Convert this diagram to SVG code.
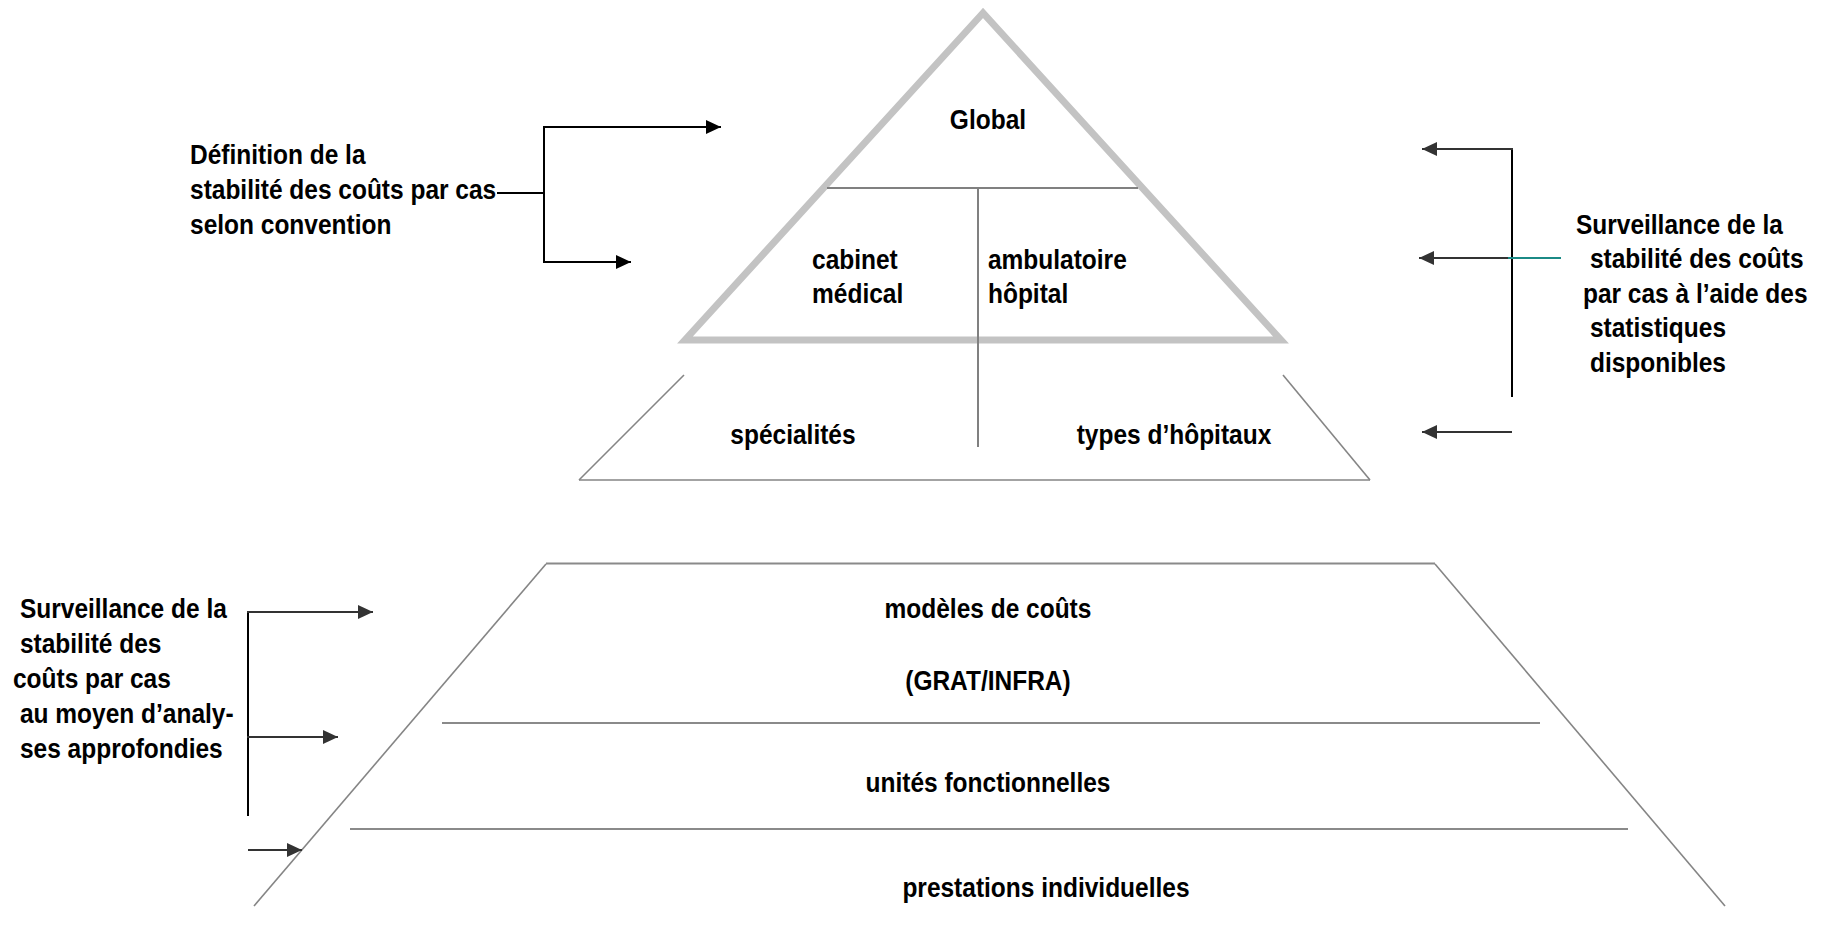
<svg xmlns="http://www.w3.org/2000/svg" width="1826" height="939" viewBox="0 0 1826 939">
<style>
text{font-family:"Liberation Sans",Arial,sans-serif;font-weight:bold;font-size:27px;fill:#000}
.c{text-anchor:middle}
.tri{fill:none;stroke:#c3c3c3;stroke-width:7;stroke-linejoin:miter}
.div{fill:none;stroke:#808080;stroke-width:2}
.edge{fill:none;stroke:#858585;stroke-width:1.6}
.hl{fill:none;stroke:#8a8a8a;stroke-width:2.2}
.blk{fill:none;stroke:#000;stroke-width:2}
.arr{fill:none;stroke:#333;stroke-width:2}
.teal{fill:none;stroke:#1b8a86;stroke-width:2}
</style>
<defs>
<marker id="ahB" markerUnits="userSpaceOnUse" markerWidth="15" markerHeight="14" refX="15" refY="7" orient="auto"><path d="M0,0 L15,7 L0,14 z" fill="#000"/></marker>
<marker id="ahG" markerUnits="userSpaceOnUse" markerWidth="15" markerHeight="14" refX="15" refY="7" orient="auto"><path d="M0,0 L15,7 L0,14 z" fill="#333"/></marker>
</defs>
<rect width="1826" height="939" fill="#fff"/>

<g id="top-triangle">
<polygon class="tri" points="983,13 685,340 1281,340"/>
<line class="div" x1="827" y1="188" x2="1138" y2="188"/>
<line class="div" x1="978" y1="188" x2="978" y2="447"/>
<g transform="scale(0.9074,1)">
<text class="c" x="1088.8" y="129">Global</text>
<text x="894.9" y="269">cabinet</text>
<text x="894.9" y="303">médical</text>
<text x="1088.8" y="269">ambulatoire</text>
<text x="1088.8" y="303">hôpital</text>
</g>
</g>

<g id="mid-trapezoid">
<line class="edge" x1="684" y1="375" x2="579" y2="480"/>
<line class="edge" x1="1283" y1="375" x2="1370" y2="480"/>
<line class="edge" x1="579" y1="480" x2="1370" y2="480"/>
<g transform="scale(0.9074,1)">
<text class="c" x="873.9" y="444">spécialités</text>
<text class="c" x="1293.8" y="444">types d’hôpitaux</text>
</g>
</g>

<g id="bottom-pyramid">
<line class="hl" x1="546" y1="563.5" x2="1435" y2="563.5"/>
<line class="edge" x1="546" y1="564" x2="254" y2="906"/>
<line class="edge" x1="1435" y1="564" x2="1725" y2="906"/>
<line class="hl" x1="442" y1="723" x2="1540" y2="723"/>
<line class="hl" x1="350" y1="829" x2="1628" y2="829"/>
<g transform="scale(0.9074,1)">
<text class="c" x="1088.8" y="618">modèles de coûts</text>
<text class="c" x="1088.8" y="690">(GRAT/INFRA)</text>
<text class="c" x="1088.8" y="792">unités fonctionnelles</text>
<text class="c" x="1152.7" y="897">prestations individuelles</text>
</g>
</g>

<g id="label-definition" transform="scale(0.9074,1)">
<text x="209.4" y="164">Définition de la</text>
<text x="209.4" y="199">stabilité des coûts par cas</text>
<text x="209.4" y="234">selon convention</text>
</g>

<g id="label-surveillance-stat" transform="scale(0.9074,1)">
<text x="1736.8" y="234">Surveillance de la</text>
<text x="1752.2" y="268">stabilité des coûts</text>
<text x="1744.5" y="303">par cas à l’aide des</text>
<text x="1752.2" y="337">statistiques</text>
<text x="1752.2" y="372">disponibles</text>
</g>

<g id="label-surveillance-analyses" transform="scale(0.9074,1)">
<text x="22" y="618">Surveillance de la</text>
<text x="22" y="653">stabilité des</text>
<text x="14.3" y="688">coûts par cas</text>
<text x="22" y="723">au moyen d’analy-</text>
<text x="22" y="758">ses approfondies</text>
</g>

<g id="connectors">
<line class="blk" x1="497" y1="193" x2="544" y2="193"/>
<line class="blk" x1="544" y1="126" x2="544" y2="263"/>
<line class="blk" x1="543" y1="127" x2="721" y2="127" marker-end="url(#ahB)"/>
<line class="blk" x1="543" y1="262" x2="631" y2="262" marker-end="url(#ahB)"/>

<line class="blk" x1="1512" y1="148" x2="1512" y2="397"/>
<line class="arr" x1="1513" y1="149" x2="1422" y2="149" marker-end="url(#ahG)"/>
<line class="arr" x1="1508" y1="258" x2="1419" y2="258" marker-end="url(#ahG)"/>
<line class="teal" x1="1508" y1="258" x2="1561" y2="258"/>
<line class="arr" x1="1512" y1="432" x2="1422" y2="432" marker-end="url(#ahG)"/>

<line class="blk" x1="248" y1="611" x2="248" y2="816"/>
<line class="arr" x1="247" y1="612" x2="373" y2="612" marker-end="url(#ahG)"/>
<line class="arr" x1="247" y1="737" x2="338" y2="737" marker-end="url(#ahG)"/>
<line class="arr" x1="248" y1="850" x2="302" y2="850" marker-end="url(#ahG)"/>
</g>
</svg>
